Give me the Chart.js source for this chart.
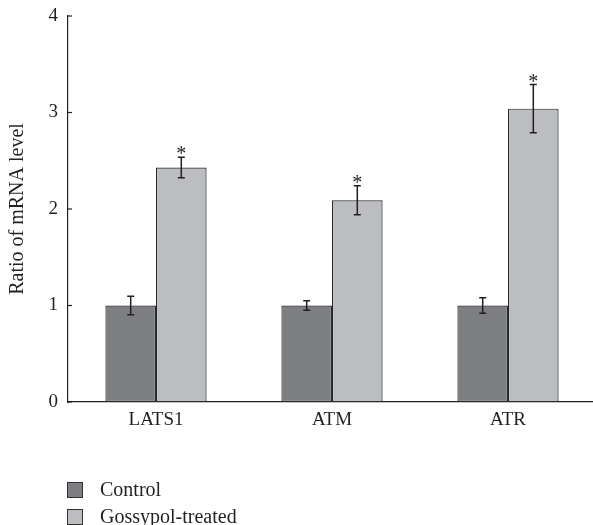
<!DOCTYPE html>
<html>
<head>
<meta charset="utf-8">
<script src="https://cdn.jsdelivr.net/npm/chart.js@4"></script>
<style>
    html, body { margin: 0; padding: 0; background: #fff; overflow: hidden; }
    #wrap { position: relative; width: 596px; height: 525px; }
    #leyenda { position: absolute; left: 67px; top: 476px; font-family: "Liberation Serif", serif; font-size: 20px; color: #231f20; }
    .item { display: flex; align-items: center; height: 27px; }
    .caja { width: 14px; height: 14px; border: 1px solid #333; margin-right: 17px; box-sizing: content-box; }
</style>
</head>
<body>
<div id="wrap">
    <canvas id="chartMrna" width="596" height="525"></canvas>
    <div id="leyenda"></div>
</div>
<script>
const categorias = ['LATS1', 'ATM', 'ATR'];
const controlValores = [1.0, 1.0, 1.0];
const controlErrores = [0.095, 0.05, 0.08];
const gossypolValores = [2.43, 2.09, 3.04];
const gossypolErrores = [0.105, 0.15, 0.25];
const gossypolSignificativo = [true, true, true];
const yTicks = [0, 1, 2, 3, 4];

const tinta = '#231f20';
const fuente = '"Liberation Serif", "Times New Roman", serif';

// barras de error, asteriscos y marcas del eje y hacia dentro
const pluginExtras = {
    id: 'extras',
    afterDatasetsDraw(chart) {
        const ctx = chart.ctx;
        const y = chart.scales.y;
        const errores = [controlErrores, gossypolErrores];
        ctx.save();
        ctx.strokeStyle = tinta;
        ctx.lineWidth = 1.5;
        chart.data.datasets.forEach((ds, i) => {
            const meta = chart.getDatasetMeta(i);
            meta.data.forEach((bar, j) => {
                const v = ds.data[j];
                const e = errores[i][j];
                const top = y.getPixelForValue(v + e);
                const bot = y.getPixelForValue(v - e);
                ctx.beginPath();
                ctx.moveTo(bar.x, top); ctx.lineTo(bar.x, bot);
                ctx.moveTo(bar.x - 3.5, top); ctx.lineTo(bar.x + 3.5, top);
                ctx.moveTo(bar.x - 3.5, bot); ctx.lineTo(bar.x + 3.5, bot);
                ctx.stroke();
                if (i === 1 && gossypolSignificativo[j]) {
                    ctx.fillStyle = tinta;
                    ctx.font = '20px ' + fuente;
                    ctx.textAlign = 'center';
                    ctx.textBaseline = 'alphabetic';
                    ctx.fillText('*', bar.x, top + 3);
                }
            });
        });
        // marcas cortas hacia dentro
        const x0 = chart.chartArea.left;
        ctx.lineWidth = 1.2;
        yTicks.forEach(t => {
            const py = y.getPixelForValue(t);
            ctx.beginPath();
            ctx.moveTo(x0, py); ctx.lineTo(x0 + 4, py);
            ctx.stroke();
        });
        ctx.restore();
    }
};

const ctx = document.getElementById('chartMrna').getContext('2d');
const chartMrna = new Chart(ctx, {
    type: 'bar',
    data: {
        labels: categorias,
        datasets: [{
            label: 'Control',
            data: controlValores,
            backgroundColor: '#7d7e82',
            borderColor: '#2b2b2b',
            borderWidth: 1.2,
            borderSkipped: false
        }, {
            label: 'Gossypol-treated',
            data: gossypolValores,
            backgroundColor: '#bcbdc1',
            borderColor: '#2b2b2b',
            borderWidth: 1.2,
            borderSkipped: false
        }]
    },
    options: {
        responsive: false,
        animation: false,
        layout: { padding: { top: 16, left: 0, right: 0, bottom: 0 } },
        datasets: { bar: { barPercentage: 1.0, categoryPercentage: 0.575 } },
        plugins: {
            legend: { display: false },
            tooltip: { enabled: false }
        },
        scales: {
            x: {
                grid: { display: false, drawTicks: false },
                border: { color: tinta, width: 1.2 },
                ticks: { color: tinta, font: { family: fuente, size: 19 }, padding: 7 },
                afterFit(scale) { scale.height = 123; }
            },
            y: {
                min: 0,
                max: 4,
                afterBuildTicks(scale) { scale.ticks = yTicks.map(v => ({ value: v })); },
                grid: { display: false, drawTicks: false },
                border: { color: tinta, width: 1.2 },
                ticks: { color: tinta, font: { family: fuente, size: 19 }, padding: 10 },
                title: {
                    display: true,
                    text: 'Ratio of mRNA level',
                    color: tinta,
                    font: { family: fuente, size: 20 },
                    padding: { top: 6, bottom: 0 }
                },
                afterFit(scale) {
                    scale.width = 68;
                    scale.paddingTop = 0;
                    scale.paddingBottom = 0;
                }
            }
        }
    },
    plugins: [pluginExtras]
});

// leyenda vertical en HTML
const leyenda = document.getElementById('leyenda');
chartMrna.data.datasets.forEach(ds => {
    const item = document.createElement('div');
    item.className = 'item';
    item.innerHTML = `<span class="caja" style="background:${ds.backgroundColor}"></span><span>${ds.label}</span>`;
    leyenda.appendChild(item);
});
</script>
</body>
</html>
